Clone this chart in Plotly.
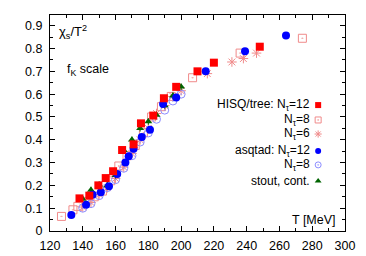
import plotly.graph_objects as go

# ---- data ----
hisq12_T = [138, 144, 149.5, 154, 158.5, 164, 171, 175.5, 183, 189.5, 197, 210, 220, 248]
hisq12_v = [0.143, 0.155, 0.2, 0.232, 0.262, 0.355, 0.38, 0.472, 0.506, 0.582, 0.632, 0.70, 0.738, 0.808]

hisq8_T = [127, 134, 137, 142, 147, 152, 157, 162, 167, 172, 177, 182, 188, 194, 207, 236, 274]
hisq8_v = [0.064, 0.093, 0.108, 0.13, 0.15, 0.175, 0.22, 0.285, 0.33, 0.375, 0.43, 0.5, 0.545, 0.59, 0.672, 0.78, 0.845]

hisq6_T = [140, 145, 150, 155, 160, 165, 170, 175, 180, 185, 190, 195, 200, 216, 231, 238, 246]
hisq6_v = [0.105, 0.125, 0.16, 0.19, 0.23, 0.28, 0.34, 0.4, 0.45, 0.515, 0.55, 0.59, 0.615, 0.69, 0.741, 0.756, 0.78]

asq12_T = [133, 142, 146, 151, 156, 161, 166, 168, 171, 176, 181, 189, 197, 215, 239, 264]
asq12_v = [0.07, 0.115, 0.159, 0.17, 0.196, 0.25, 0.30, 0.328, 0.361, 0.412, 0.444, 0.557, 0.585, 0.70, 0.788, 0.857]

asq8_T = [140, 145, 150, 155, 160, 165, 170, 175, 180, 185, 190, 195, 200]
asq8_v = [0.1, 0.12, 0.155, 0.19, 0.225, 0.275, 0.33, 0.39, 0.43, 0.49, 0.53, 0.57, 0.6]

stout_T = [140, 145, 150, 155, 160, 165, 170, 175, 180, 185, 190, 195, 200]
stout_v = [0.14, 0.18, 0.203, 0.2, 0.244, 0.354, 0.40, 0.45, 0.48, 0.509, 0.55, 0.593, 0.632]
stout_err = [0.012, 0.014, 0.014, 0.014, 0.014, 0.014, 0.014, 0.014, 0.014, 0.014, 0.014, 0.014, 0.014]

x_ticks = [120, 140, 160, 180, 200, 220, 240, 260, 280, 300]
y_ticks = [0, 0.1, 0.2, 0.3, 0.4, 0.5, 0.6, 0.7, 0.8, 0.9]

legend_labels = ["HISQ/tree: N<sub>τ</sub>=12", "N<sub>τ</sub>=8", "N<sub>τ</sub>=6",
                 "asqtad: N<sub>τ</sub>=12", "N<sub>τ</sub>=8", "stout, cont."]

X_RANGE = [120, 300]
Y_RANGE = [0, 0.947]

RED = "#ff0000"
LRED = "#f08a8a"
BLUE = "#0000ff"
LBLUE = "#8c8cff"
GREEN = "#006400"

styles = [
    dict(symbol="square", size=8, color=RED, line=dict(width=0)),
    dict(symbol="square-open-dot", size=8, color=LRED, line=dict(width=1, color=LRED)),
    dict(symbol="asterisk-open", size=8, color=LRED, line=dict(width=1, color=LRED)),
    dict(symbol="circle", size=8, color=BLUE, line=dict(width=0)),
    dict(symbol="circle-open-dot", size=8, color=LBLUE, line=dict(width=1, color=LBLUE)),
    dict(symbol="triangle-up", size=7, color=GREEN, line=dict(width=0)),
]

fig = go.Figure()

def add(T, v, st, err=None):
    kw = {}
    if err is not None:
        kw["error_y"] = dict(type="data", array=err, visible=True, color=st["color"], thickness=1, width=0)
    fig.add_trace(go.Scatter(x=T, y=v, mode="markers", marker=st, showlegend=False, hoverinfo="skip", **kw))

add(hisq8_T, hisq8_v, styles[1])
add(hisq6_T, hisq6_v, styles[2])
add(asq8_T, asq8_v, styles[4])
add(stout_T, stout_v, styles[5], stout_err)
add(asq12_T, asq12_v, styles[3])
add(hisq12_T, hisq12_v, styles[0])

# legend (manual, text right-aligned with key on right)
leg_y_paper = [0.583, 0.514, 0.449, 0.37, 0.306, 0.231]
leg_text_x = 0.886
leg_key_x = 0.909
for lab, yp, st in zip(legend_labels, leg_y_paper, styles):
    fig.add_annotation(x=leg_text_x, y=yp, xref="paper", yref="paper", text=lab,
                       showarrow=False, xanchor="right", yanchor="middle", borderpad=0,
                       font=dict(size=12, color="black"))
    kx = X_RANGE[0] + leg_key_x * (X_RANGE[1] - X_RANGE[0])
    ky = Y_RANGE[0] + yp * (Y_RANGE[1] - Y_RANGE[0])
    mk = dict(st)
    mk["size"] = 6
    fig.add_trace(go.Scatter(x=[kx], y=[ky], mode="markers", marker=mk,
                             showlegend=False, hoverinfo="skip"))

fig.add_annotation(x=0.025, y=0.92, xref="paper", yref="paper",
                   text="χ<sub>s</sub>/T<sup>2</sup>", showarrow=False,
                   xanchor="left", yanchor="middle", font=dict(size=13, color="black"))
fig.add_annotation(x=0.05, y=0.745, xref="paper", yref="paper",
                   text="f<sub>K</sub> scale", showarrow=False,
                   xanchor="left", yanchor="middle", font=dict(size=12.5, color="black"))
fig.add_annotation(x=0.975, y=0.05, xref="paper", yref="paper",
                   text="T [MeV]", showarrow=False,
                   xanchor="right", yanchor="middle", font=dict(size=12.5, color="black"))

axis_common = dict(showgrid=False, zeroline=False, showline=True, linecolor="black", linewidth=1,
                   mirror="allticks", ticks="inside", ticklen=5, tickcolor="black",
                   tickfont=dict(size=12.5, color="black"), automargin=False)

fig.update_xaxes(range=X_RANGE, tickvals=x_ticks, ticktext=[str(t) for t in x_ticks],
                 ticklabelstandoff=3,
                 minor=dict(ticks="inside", ticklen=3, dtick=10, tickcolor="black", showgrid=False),
                 **axis_common)
fig.update_yaxes(range=Y_RANGE, tickvals=y_ticks, ticktext=["0"] + [f"{t:.1f}" for t in y_ticks[1:]],
                 ticklabelstandoff=4,
                 minor=dict(ticks="inside", ticklen=3, dtick=0.05, tickcolor="black", showgrid=False),
                 **axis_common)

# page body has an 8px margin, so the figure is shrunk to keep the plot area in place
fig.update_layout(width=358, height=248, margin=dict(l=42, r=21, t=7, b=25),
                  plot_bgcolor="white", paper_bgcolor="white",
                  font=dict(family="Liberation Sans, Arial, sans-serif", color="black"))

fig.write_html("out.html")
